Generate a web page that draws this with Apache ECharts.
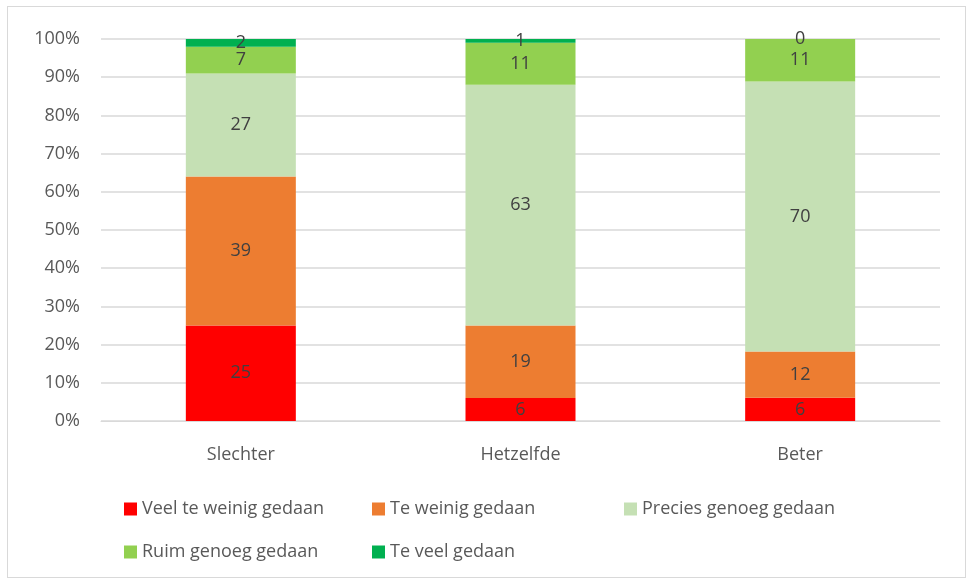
<!DOCTYPE html>
<html>
<head>
<meta charset="utf-8">
<script src="https://cdn.jsdelivr.net/npm/echarts@6/dist/echarts.min.js"></script>
<style>
  html, body { margin: 0; padding: 0; background: #fff; }
  #chart { width: 971px; height: 581px; }
  .frame { position: absolute; left: 7px; top: 6px; width: 957px; height: 570px; border: 1px solid #d9d9d9; pointer-events: none; }
</style>
</head>
<body>
<div id="chart"></div>
<div class="frame"></div>
<script>
// Data (counts per group)
const categories = ['Slechter', 'Hetzelfde', 'Beter']
const seriesNames = ['Veel te weinig gedaan', 'Te weinig gedaan', 'Precies genoeg gedaan', 'Ruim genoeg gedaan', 'Te veel gedaan']
const veelTeWeinig = [25, 6, 6]
const teWeinig = [39, 19, 12]
const preciesGenoeg = [27, 63, 70]
const ruimGenoeg = [7, 11, 11]
const teVeel = [2, 1, 0]
const yTicks = [0, 10, 20, 30, 40, 50, 60, 70, 80, 90, 100]

const colors = ['#ff0000', '#ed7d31', '#c5e0b4', '#92d050', '#00b050']
const raw = [veelTeWeinig, teWeinig, preciesGenoeg, ruimGenoeg, teVeel]

// 100% stacked: share of each group's total
const totals = categories.map((c, i) => raw.reduce((s, arr) => s + arr[i], 0))

const font = 'Open Sans'
const fs = 18

const chart = echarts.init(document.getElementById('chart'))

// legend positions (Excel-like grid of items)
const legendPos = [
  { left: 119, top: 495 }, { left: 367, top: 495 }, { left: 619, top: 495 },
  { left: 119, top: 538 }, { left: 367, top: 538 }
]

chart.setOption({
  animation: false,
  textStyle: { fontFamily: font },
  grid: { left: 101, right: 31, top: 39, bottom: 160 },
  legend: seriesNames.map((name, i) => ({
    data: [name],
    left: legendPos[i].left,
    top: legendPos[i].top,
    icon: 'rect',
    itemWidth: 13,
    itemHeight: 13,
    itemGap: 6,
    textStyle: { fontFamily: font, fontSize: fs, color: '#595959' }
  })),
  xAxis: {
    type: 'category',
    data: categories,
    axisLine: { lineStyle: { color: '#d9d9d9' } },
    axisTick: { show: false },
    axisLabel: { color: '#595959', fontSize: fs, margin: 25, fontFamily: font }
  },
  yAxis: {
    type: 'value',
    min: yTicks[0],
    max: yTicks[yTicks.length - 1],
    interval: 10,
    axisLine: { show: false },
    axisTick: { show: false },
    splitLine: { lineStyle: { color: '#d9d9d9', width: 1.5 } },
    axisLabel: { color: '#595959', fontSize: fs, margin: 21, formatter: '{value}%', fontFamily: font }
  },
  series: seriesNames.map((name, k) => ({
    name: name,
    type: 'bar',
    stack: 'total',
    barWidth: 110,
    itemStyle: { color: colors[k] },
    label: {
      show: true,
      position: 'inside',
      color: '#404040',
      fontSize: fs,
      fontFamily: font,
      formatter: p => String(raw[k][p.dataIndex])
    },
    data: raw[k].map((v, i) => v / totals[i] * 100)
  }))
})
</script>
</body>
</html>
